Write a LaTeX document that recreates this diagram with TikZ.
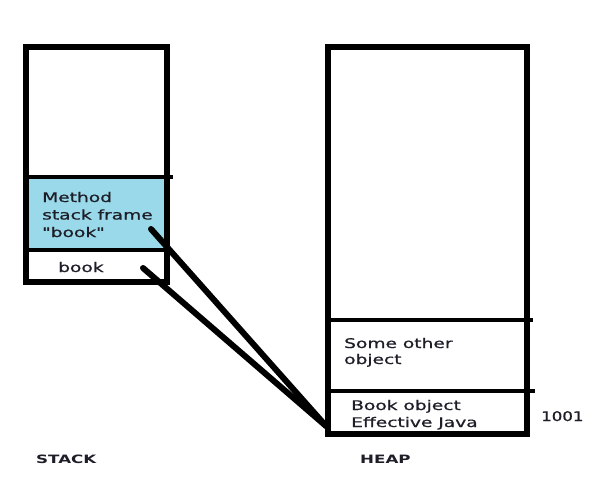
\documentclass[tikz,border=0pt]{standalone}
\usepackage{fontspec}
\setmainfont{DejaVu Sans}
\newfontfamily\labelfont[FakeBold=0.7]{DejaVu Sans}
\definecolor{frameblue}{HTML}{99D9EA}
\definecolor{txt}{HTML}{1E1E28}
\newcommand\widetext[1]{\scalebox{1.4}[1]{#1}}
\newcommand\widenum[1]{\scalebox{1.25}[1]{#1}}
\newcommand\widecap[1]{\scalebox{1.45}[1]{#1}}
\begin{document}
\begin{tikzpicture}[x=1pt,y=-1pt,
  outer/.style={line width=6pt},
  divider/.style={line width=4.5pt},
  lbl/.style={anchor=base west, inner sep=0pt, text=txt, font=\labelfont\fontsize{13.3}{15}\selectfont},
  caption/.style={anchor=base west, inner sep=0pt, text=txt, font=\fontsize{11.5}{14}\selectfont\bfseries},
  pointer/.style={line width=6pt, line cap=round}]
\useasboundingbox[fill=white] (0,0) rectangle (604,487);

% stack
\fill[frameblue] (26,177) rectangle (167,250);
\draw[outer] (26,47) rectangle (167,282);
\draw[divider] (26,177) -- (173,177);
\draw[divider] (26,250) -- (167,250);

% heap
\draw[outer] (328,47) rectangle (527,434);
\draw[divider] (328,320) -- (533,320);
\draw[divider] (328,391) -- (535,391);

% texts
\node[lbl] (m1) at (42,202) {\widetext{Method}};
\node[lbl] (m2) at (42,219.5) {\widetext{stack frame}};
\node[lbl] (m3) at (42,237) {\widetext{\char34 book\char34}};
\node[lbl] (bk) at (58,272) {\widetext{book}};
\node[lbl] (so1) at (344,348) {\widetext{Some other}};
\node[lbl] (so2) at (344,364) {\widetext{object}};
\node[lbl] (bo1) at (351,410) {\widetext{Book object}};
\node[lbl] (bo2) at (351,427) {\widetext{Effective Java}};
\node[lbl] (addr) at (541,421) {\widenum{1001}};
\node[caption] (stack) at (36,463.5) {\widecap{STACK}};
\node[caption] (heap) at (360,463.5) {\widecap{HEAP}};

% pointers
\coordinate (p1) at (151,229);
\coordinate (p2) at (143,268);
\coordinate (obj) at (326,426);
\draw[pointer] (p1) -- (obj);
\draw[pointer] (p2) -- (obj);
\end{tikzpicture}
\end{document}
